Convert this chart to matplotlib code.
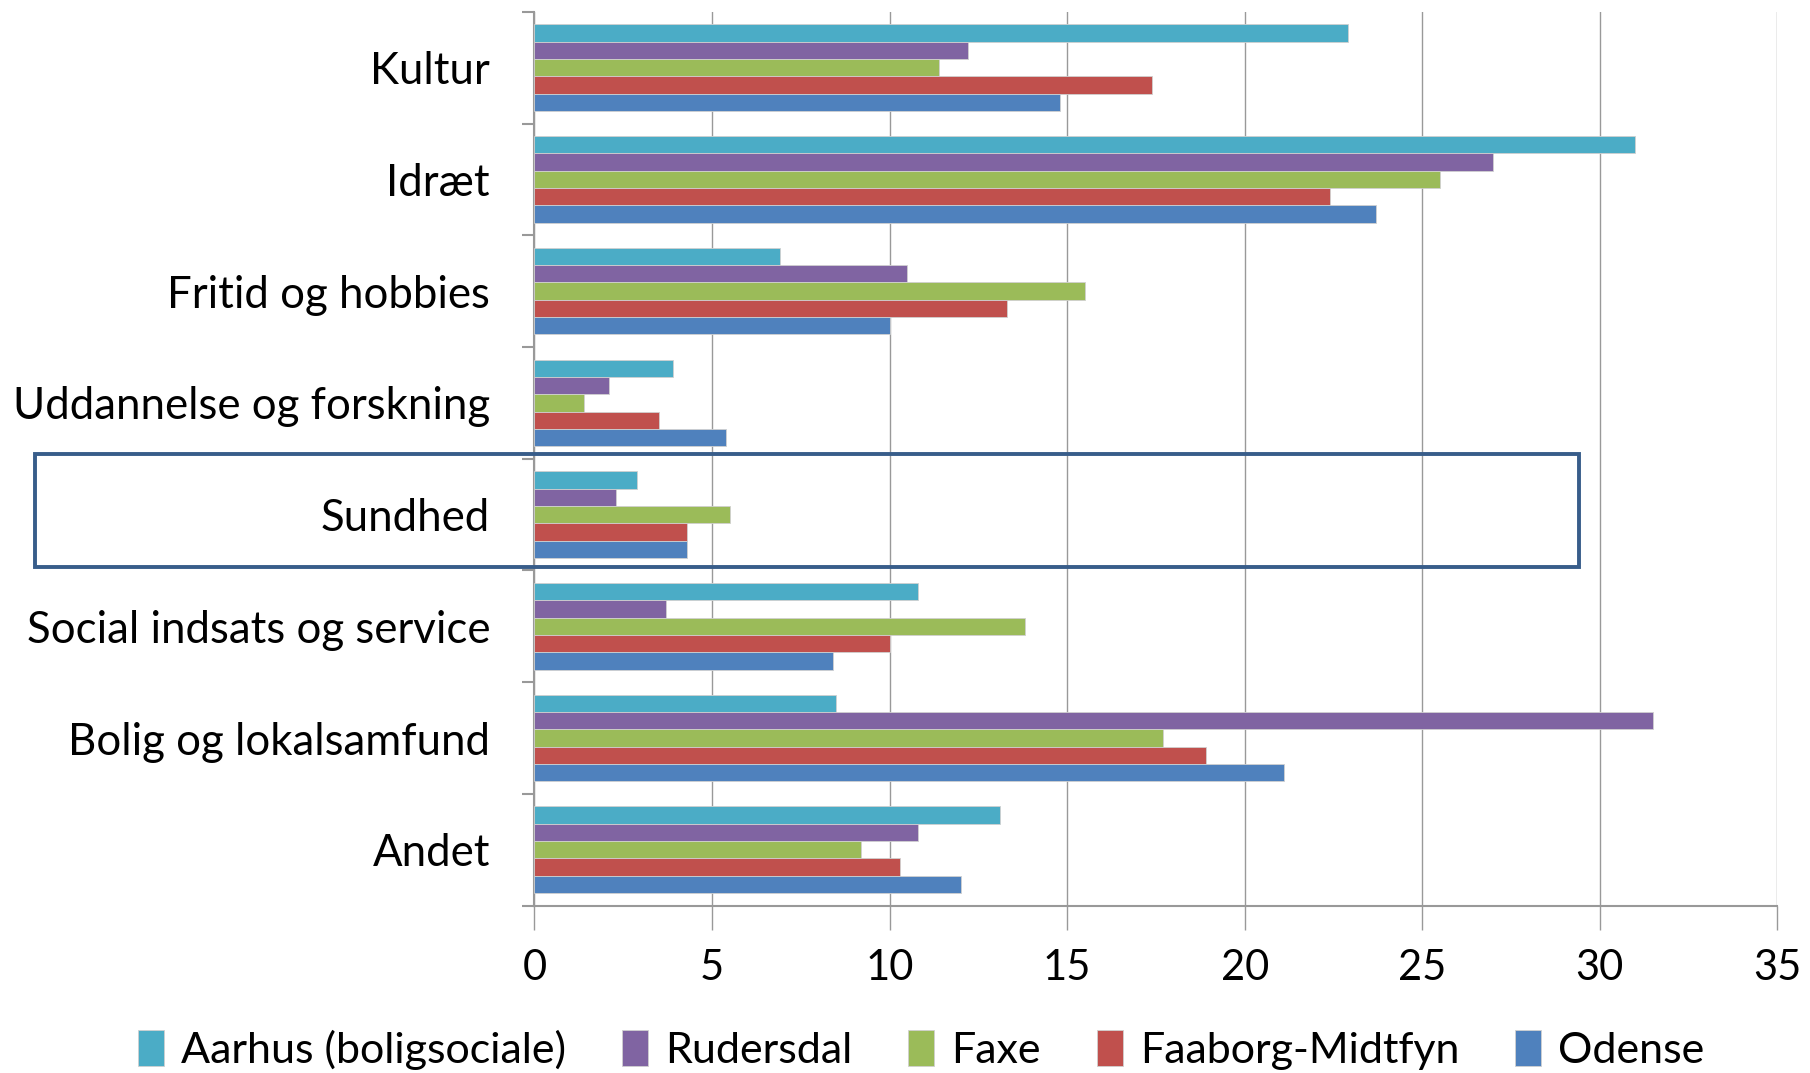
import numpy as np
import matplotlib.pyplot as plt
from matplotlib.patches import Rectangle

categories = ["Kultur", "Idræt", "Fritid og hobbies", "Uddannelse og forskning",
              "Sundhed", "Social indsats og service", "Bolig og lokalsamfund", "Andet"]
series = ["Aarhus (boligsociale)", "Rudersdal", "Faxe", "Faaborg-Midtfyn", "Odense"]
colors = ["#4BACC6", "#8064A2", "#9BBB59", "#C0504D", "#4F81BD"]

aarhus = [22.9, 31.0, 6.9, 3.9, 2.9, 10.8, 8.5, 13.1]
rudersdal = [12.2, 27.0, 10.5, 2.1, 2.3, 3.7, 31.5, 10.8]
faxe = [11.4, 25.5, 15.5, 1.4, 5.5, 13.8, 17.7, 9.2]
faaborg = [17.4, 22.4, 13.3, 3.5, 4.3, 10.0, 18.9, 10.3]
odense = [14.8, 23.7, 10.0, 5.4, 4.3, 8.4, 21.1, 12.0]
values = [aarhus, rudersdal, faxe, faaborg, odense]

plt.rcParams['font.family'] = ['Lato', 'DejaVu Sans']

fig = plt.figure(figsize=(18.1, 10.73), dpi=100)
ax = fig.add_axes([0.2953, 0.156, 0.982 - 0.2953, 0.989 - 0.156])

n = len(categories)
h = 0.155
ypos = np.arange(n)
for i, (name, vals) in enumerate(zip(series, values)):
    # Aarhus on top, Odense at bottom inside each group
    offs = (i - 2) * h
    ax.barh(ypos + offs, vals, height=h, color=colors[i], label=name,
            edgecolor="#d0d0d0", linewidth=0.6, zorder=3)

ax.set_xlim(0, 35)
ax.set_ylim(n - 0.5, -0.5)
ax.set_xticks(np.arange(0, 36, 5))
ax.tick_params(axis="x", length=17, width=1, color="#999999", labelsize=30, pad=14)
ax.grid(axis="x", color="#999999", linewidth=1, zorder=0)

ax.set_yticks(np.arange(-0.5, n, 1))
ax.set_yticklabels([])
ax.set_yticks(ypos, minor=True)
ax.set_yticklabels(categories, minor=True, fontsize=31.5)
ax.tick_params(axis="y", which="major", length=9, width=1.5, color="#999999")
ax.tick_params(axis="y", which="minor", length=0, pad=32)

for s in ["top", "right"]:
    ax.spines[s].set_visible(False)
for s in ["left", "bottom"]:
    ax.spines[s].set_color("#999999")
    ax.spines[s].set_linewidth(1.5)

# highlight box around "Sundhed"
rect = Rectangle((35 / 1810, 1 - 567 / 1073), (1579 - 35) / 1810, (567 - 454) / 1073,
                 transform=fig.transFigure, fill=False, edgecolor="#385D8A",
                 linewidth=2.8, zorder=10)
fig.patches.append(rect)

handles, labels = ax.get_legend_handles_labels()
fig.legend(handles, labels, loc="center", bbox_to_anchor=(0.509, 1 - 1050 / 1073),
           ncol=5, frameon=False, fontsize=31, handlelength=0.6, handleheight=0.9,
           handletextpad=0.4, columnspacing=1.3)

fig.savefig("out.png", dpi=100)
